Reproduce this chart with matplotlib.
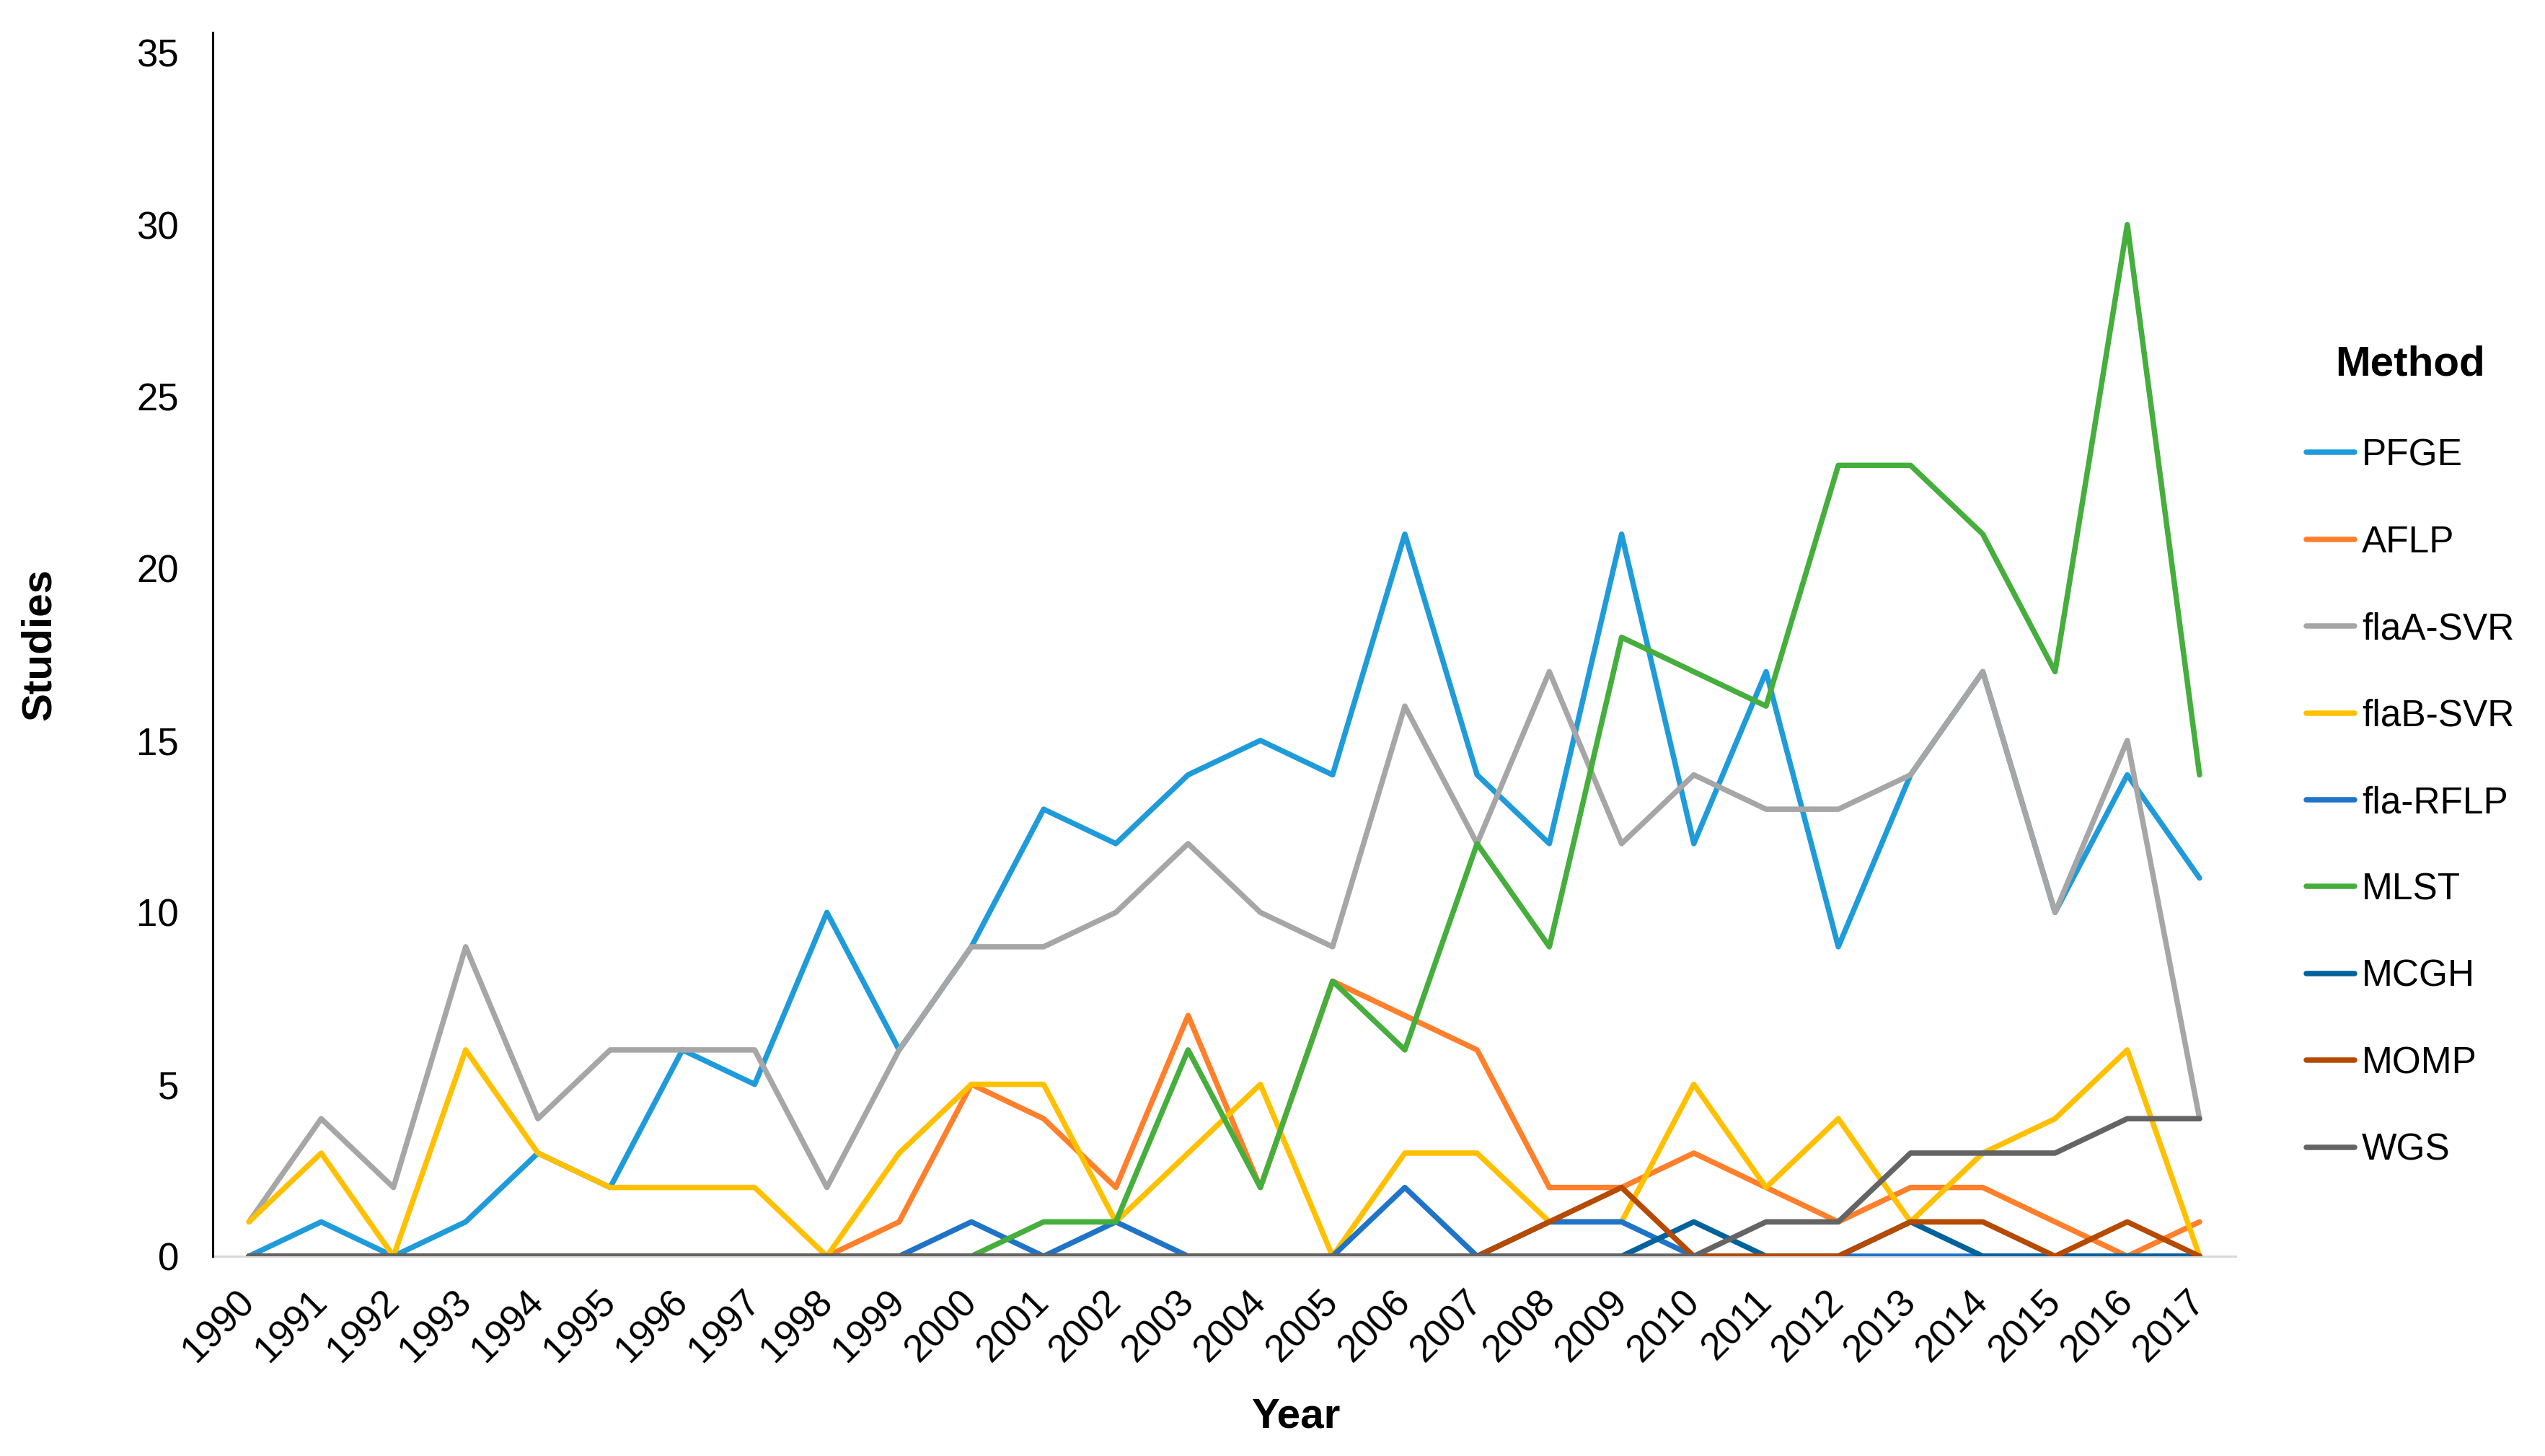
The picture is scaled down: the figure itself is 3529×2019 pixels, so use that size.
import matplotlib
matplotlib.use("Agg")
import matplotlib.pyplot as plt
import numpy as np

plt.rcParams['font.family'] = ['Liberation Sans', 'DejaVu Sans']

# data
years = [str(y) for y in range(1990, 2018)]
pfge   = [0,1,0,1,3,2,6,5,10,6,9,13,12,14,15,14,21,14,12,21,12,17,9,14,17,10,14,11]
aflp   = [0,0,0,0,0,0,0,0,0,1,5,4,2,7,2,8,7,6,2,2,3,2,1,2,2,1,0,1]
flaa   = [1,4,2,9,4,6,6,6,2,6,9,9,10,12,10,9,16,12,17,12,14,13,13,14,17,10,15,4]
flab   = [1,3,0,6,3,2,2,2,0,3,5,5,1,3,5,0,3,3,1,1,5,2,4,1,3,4,6,0]
rflp   = [0,0,0,0,0,0,0,0,0,0,1,0,1,0,0,0,2,0,1,1,0,0,0,0,0,0,0,0]
mlst   = [0,0,0,0,0,0,0,0,0,0,0,1,1,6,2,8,6,12,9,18,17,16,23,23,21,17,30,14]
mcgh   = [0,0,0,0,0,0,0,0,0,0,0,0,0,0,0,0,0,0,0,0,1,0,0,1,0,0,0,0]
momp   = [0,0,0,0,0,0,0,0,0,0,0,0,0,0,0,0,0,0,1,2,0,0,0,1,1,0,1,0]
wgs    = [0,0,0,0,0,0,0,0,0,0,0,0,0,0,0,0,0,0,0,0,0,1,1,3,3,3,4,4]

names = ["PFGE", "AFLP", "flaA-SVR", "flaB-SVR", "fla-RFLP", "MLST", "MCGH", "MOMP", "WGS"]
series = [pfge, aflp, flaa, flab, rflp, mlst, mcgh, momp, wgs]
colors = ['#1F9BDA', '#FF7F2A', '#A6A6A6', '#FFC000', '#1F74C8',
          '#45AE3C', '#00629B', '#B54A00', '#646464']

fig = plt.figure(figsize=(17.65, 10.095), dpi=200)
ax = fig.add_axes([0.0836, 0.1372, 0.7946, 0.8405])

x = np.arange(len(years))
for s, n, c in zip(series, names, colors):
    ax.plot(x, s, color=c, lw=2.7, label=n,
            solid_capstyle='round', solid_joinstyle='round')

ax.set_xlim(-0.5, 27.5)
ax.set_ylim(0, 35.59)
ax.set_yticks(range(0, 36, 5))
ax.set_xticks(x)
ax.set_xticklabels(years, rotation=45, ha='right', va='center',
                   rotation_mode='anchor')

ax.tick_params(axis='y', length=0, pad=17, labelsize=19)
ax.tick_params(axis='x', length=0, pad=20, labelsize=19)

for sp in ['top', 'right']:
    ax.spines[sp].set_visible(False)
ax.spines['left'].set_color('black')
ax.spines['left'].set_linewidth(1.1)
ax.spines['bottom'].set_color('#D9D9D9')
ax.spines['bottom'].set_linewidth(1.1)
ax.spines['bottom'].set_zorder(0)

ax.set_ylabel('Studies', fontsize=21, fontweight='bold')
ax.yaxis.set_label_coords(-0.076, 0.5)
ax.set_xlabel('Year', fontsize=21, fontweight='bold')
ax.xaxis.set_label_coords(0.5355, -0.1155)

leg = ax.legend(loc='upper left', bbox_to_anchor=(0.8928, 0.786),
                bbox_transform=fig.transFigure, frameon=False,
                fontsize=18.5, handlelength=1.3, handletextpad=0.2,
                labelspacing=1.39, title='Method',
                title_fontproperties={'weight': 'bold', 'size': 21})
leg._legend_box.sep = 27

fig.savefig('out.png', dpi=200)
